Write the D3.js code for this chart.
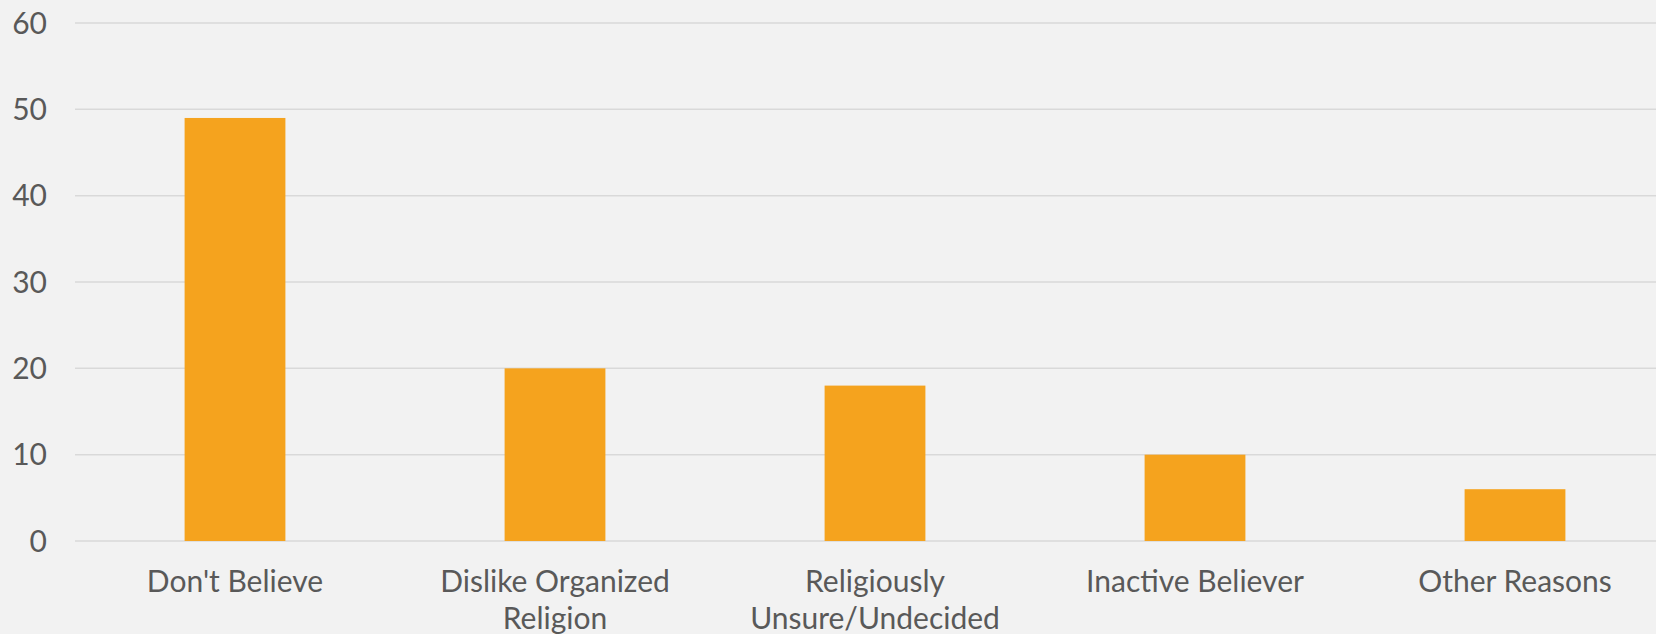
<!DOCTYPE html>
<html>
<head>
<meta charset="utf-8">
<script src="https://cdn.jsdelivr.net/npm/d3@7"></script>
<style>
  html, body { margin: 0; padding: 0; background: #f2f2f2; overflow: hidden; }
  svg { display: block; }
  text { font-family: "Lato", "Open Sans", sans-serif; fill: #595959; }
</style>
</head>
<body>
<svg id="chart" width="1656" height="634"></svg>
<script>
const categories = ["Don't Believe", "Dislike Organized Religion", "Religiously Unsure/Undecided", "Inactive Believer", "Other Reasons"];
const categoryLines = [["Don't Believe"], ["Dislike Organized", "Religion"], ["Religiously", "Unsure/Undecided"], ["Inactive Believer"], ["Other Reasons"]];
const values = [49, 20, 18, 10, 6];
const yTicks = [0, 10, 20, 30, 40, 50, 60];

const W = 1656, H = 634;
const svg = d3.select("#chart");
svg.append("rect").attr("width", W).attr("height", H).attr("fill", "#f2f2f2");

const x = d3.scaleBand().domain(categories).range([75, 1675]).paddingInner(0.685).paddingOuter(0.3425);
const y = d3.scaleLinear().domain([0, 60]).range([541, 23]);

// gridlines
svg.append("g").selectAll("line").data(yTicks).join("line")
  .attr("x1", 75).attr("x2", W)
  .attr("y1", d => y(d)).attr("y2", d => y(d))
  .attr("stroke", "#d9d9d9").attr("stroke-width", 1.5);

// y labels
svg.append("g").selectAll("text").data(yTicks).join("text")
  .attr("x", 47).attr("y", d => y(d)).attr("dy", "0.36em")
  .attr("text-anchor", "end").attr("font-size", 30)
  .text(d => d);

// bars
svg.append("g").selectAll("rect").data(values).join("rect")
  .attr("x", (d, i) => x(categories[i]))
  .attr("width", x.bandwidth())
  .attr("y", d => y(d))
  .attr("height", d => y(0) - y(d))
  .attr("fill", "#f5a31e");

// x labels
const xl = svg.append("g").selectAll("text").data(categories).join("text")
  .attr("x", d => x(d) + x.bandwidth() / 2)
  .attr("y", 592)
  .attr("text-anchor", "middle").attr("font-size", 30);
xl.each(function(d, i) {
  d3.select(this).selectAll("tspan").data(categoryLines[i]).join("tspan")
    .attr("x", x(d) + x.bandwidth() / 2)
    .attr("dy", (l, j) => j === 0 ? 0 : 36.5)
    .text(l => l);
});
</script>
</body>
</html>
